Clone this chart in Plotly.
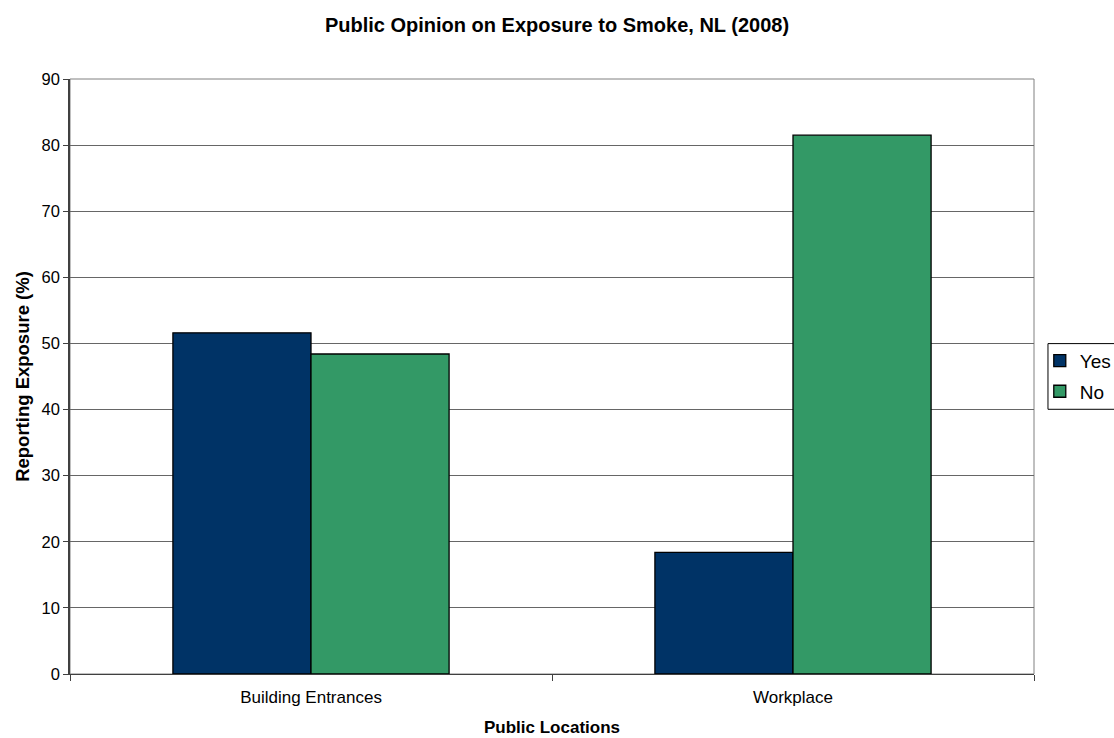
import plotly.graph_objects as go

# Survey results: share of respondents reporting exposure to smoke
locations = ["Building Entrances", "Workplace"]
yes_pct = [51.6, 18.4]
no_pct = [48.4, 81.5]
y_ticks = [0, 10, 20, 30, 40, 50, 60, 70, 80, 90]

FONT = "Liberation Sans, Arial, sans-serif"

fig = go.Figure()
fig.add_trace(go.Bar(
    name="Yes", x=locations, y=yes_pct, legendgroup="yes",
    marker=dict(color="#003366", line=dict(color="#000000", width=1.3)),
))
fig.add_trace(go.Bar(
    name="No", x=locations, y=no_pct, legendgroup="no",
    marker=dict(color="#339966", line=dict(color="#000000", width=1.3)),
))

# grey frame around the plotting area (top and right edges)
fig.add_shape(type="rect", xref="paper", yref="paper", x0=0, x1=1, y0=0, y1=1,
              line=dict(color="#808080", width=1), layer="below")
# legend frame, running off the right edge of the page
fig.add_shape(type="rect", xref="paper", yref="paper",
              x0=1.0145, x1=1.09, y0=0.4449, y1=0.5553,
              line=dict(color="#000000", width=1), fillcolor="rgba(0,0,0,0)")

fig.update_layout(
    width=1114, height=738,
    margin=dict(l=70, r=80, t=79, b=64, autoexpand=False),
    paper_bgcolor="white", plot_bgcolor="white",
    font=dict(family=FONT, color="#000000", size=17),
    title=dict(text="<b>Public Opinion on Exposure to Smoke, NL (2008)</b>",
               x=0.5, xanchor="center", y=0.966, yanchor="middle",
               font=dict(family=FONT, size=20)),
    barmode="group", bargap=0.427, bargroupgap=0,
    showlegend=True,
    legend=dict(x=1.006, xanchor="left", y=0.5585, yanchor="top",
                borderwidth=0, bgcolor="rgba(0,0,0,0)",
                font=dict(family=FONT, size=19), tracegroupgap=3,
                traceorder="grouped"),
    xaxis=dict(
        type="category", showgrid=False,
        showline=True, linecolor="#404040", linewidth=1,
        ticks="outside", ticklen=6, tickcolor="#404040", tickson="boundaries",
        tickfont=dict(size=17), ticklabelstandoff=8,
        title=dict(text="<b>Public Locations</b>", font=dict(size=17), standoff=14),
    ),
    yaxis=dict(
        range=[0, 90], tickvals=y_ticks, ticktext=[str(v) for v in y_ticks],
        showgrid=True, gridcolor="#666666", gridwidth=1, zeroline=False,
        showline=True, linecolor="#404040", linewidth=1.5,
        ticks="outside", ticklen=5, tickcolor="#404040",
        tickfont=dict(size=16.5),
        title=dict(text="<b>Reporting Exposure (%)</b>", font=dict(size=18.5), standoff=7),
    ),
)

fig.write_html("out.html")
